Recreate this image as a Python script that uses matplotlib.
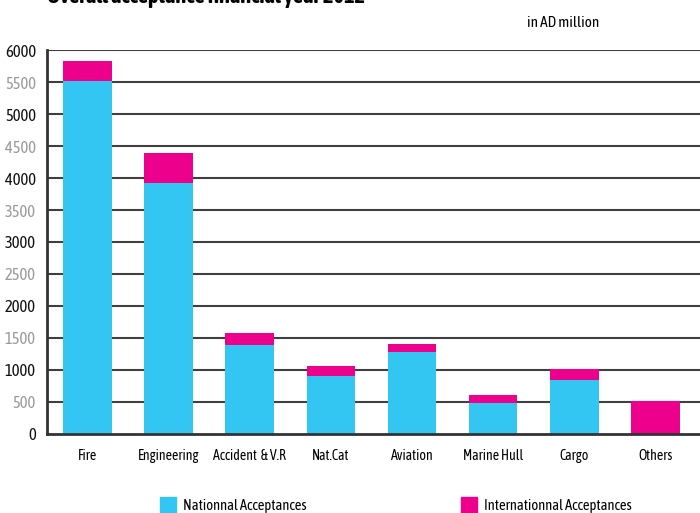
import numpy as np
import matplotlib.pyplot as plt
from matplotlib.patches import Patch

# data (AD million)
categories = ['Fire', 'Engineering', 'Accident  & V.R', 'Nat.Cat', 'Aviation',
              'Marine Hull', 'Cargo', 'Others']
national = [5520, 3920, 1390, 905, 1280, 485, 845, 0]
international = [310, 470, 190, 155, 125, 125, 170, 515]
yticks = [0, 500, 1000, 1500, 2000, 2500, 3000, 3500, 4000, 4500, 5000, 5500, 6000]

BLUE = '#33C6F3'
MAGENTA = '#EC008C'

plt.rcParams['font.family'] = ['Asap Condensed', 'Archivo Narrow', 'DejaVu Sans']

fig = plt.figure(figsize=(7.0, 5.13), dpi=100)
ax = fig.add_axes([47 / 700, 79 / 513, 1 - 47 / 700, 384 / 513])

x = np.arange(len(categories))
ax.bar(x, national, width=0.6, color=BLUE, zorder=3)
ax.bar(x, international, width=0.6, bottom=national, color=MAGENTA, zorder=3)

ax.set_ylim(0, 6000)
ax.set_xlim(-0.5, 7.55)

# horizontal rules
for v in yticks[1:]:
    ax.axhline(v, color='#404040', lw=1.5, zorder=1)

ax.set_yticks(yticks)
ax.set_yticklabels([str(v) for v in yticks], fontsize=12)
for lab, v in zip(ax.get_yticklabels(), yticks):
    lab.set_color('#111111' if v % 1000 == 0 else '#9a9a9a')

ax.set_xticks(x)
ax.set_xticklabels(categories, fontsize=10)
ax.tick_params(axis='y', length=0, pad=8)
ax.tick_params(axis='x', length=0, pad=11)

for s in ['top', 'right']:
    ax.spines[s].set_visible(False)
for s in ['left', 'bottom']:
    ax.spines[s].set_color('#333333')
    ax.spines[s].set_linewidth(2)
    ax.spines[s].set_zorder(4)

# title is cut at the top edge, as in the original
fig.text(47 / 700, 510 / 513, 'Overall acceptance financial year 2012',
         fontsize=16, fontweight='bold', va='baseline', ha='left')
fig.text(527 / 700, 486 / 513, 'in AD million', fontsize=11,
         va='baseline', ha='left')

leg_kw = dict(frameon=False, fontsize=10.5, handlelength=1.1, handleheight=1.3,
              handletextpad=0.5, borderpad=0, borderaxespad=0,
              loc='center left')
fig.legend(handles=[Patch(color=BLUE, label='Nationnal Acceptances')],
           bbox_to_anchor=(160 / 700, 8 / 513), **leg_kw)
fig.legend(handles=[Patch(color=MAGENTA, label='Internationnal Acceptances')],
           bbox_to_anchor=(461 / 700, 8 / 513), **leg_kw)

fig.savefig('out.png', dpi=100)
